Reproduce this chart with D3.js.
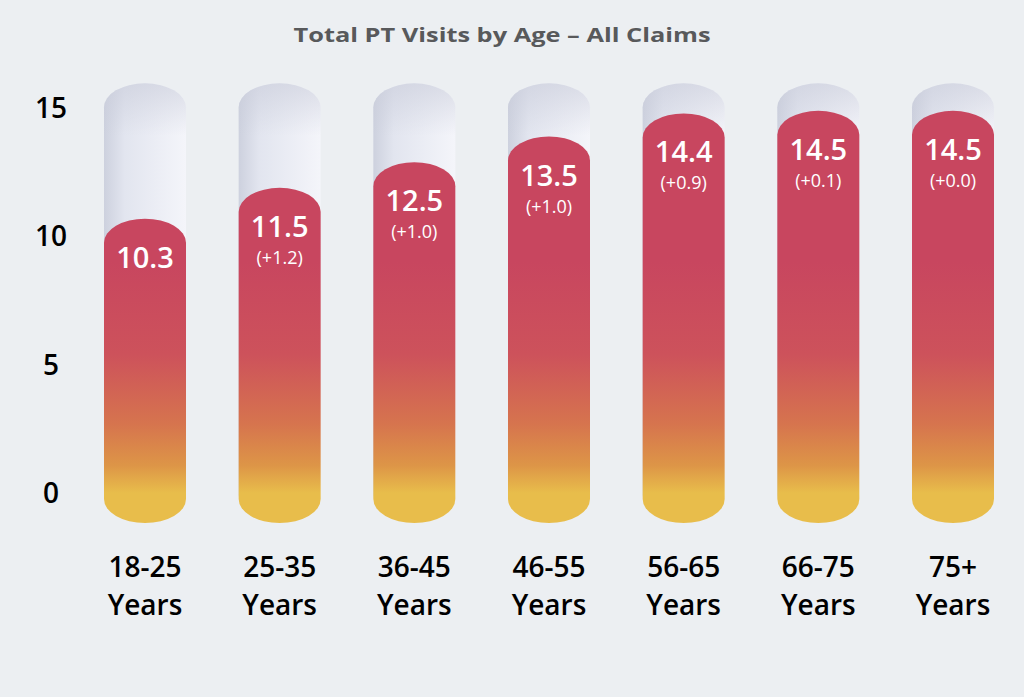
<!DOCTYPE html>
<html>
<head>
<meta charset="utf-8">
<script src="https://cdn.jsdelivr.net/npm/d3@7"></script>
<style>
  html, body { margin: 0; padding: 0; background: #eceff2; }
  svg { display: block; }
  text { font-family: "Open Sans", sans-serif; }
</style>
</head>
<body>
<svg class="chart"></svg>
<script>
// data
var ageGroups = ["18-25", "25-35", "36-45", "46-55", "56-65", "66-75", "75+"];
var visits = [10.3, 11.5, 12.5, 13.5, 14.4, 14.5, 14.5];
var changeLabels = ["", "(+1.2)", "(+1.0)", "(+1.0)", "(+0.9)", "(+0.1)", "(+0.0)"];
var yTicks = [0, 5, 10, 15];
var tubeMax = 16;

var canvasWidth = 1024;
var canvasHeight = 697;
var barWidth = 82;
var capRy = 24;

var svg = d3.select(".chart")
    .attr("width", canvasWidth)
    .attr("height", canvasHeight);

// scales
var x = d3.scalePoint()
    .domain(ageGroups)
    .range([145, 953]);

var y = d3.scaleLinear()
    .domain([0, 15])
    .range([493, 108]);

// capsule shape: elliptical cap top and bottom
function capsule(cx, top, bottom) {
    var r = barWidth / 2;
    return "M" + (cx - r) + "," + (top + capRy) +
        "A" + r + "," + capRy + " 0 0 1 " + (cx + r) + "," + (top + capRy) +
        "L" + (cx + r) + "," + (bottom - capRy) +
        "A" + r + "," + capRy + " 0 0 1 " + (cx - r) + "," + (bottom - capRy) + "Z";
}

var defs = svg.append("defs");

var tubeGrad = defs.append("linearGradient")
    .attr("id", "tube")
    .attr("x1", "0").attr("x2", "1").attr("y1", "0").attr("y2", "0");
tubeGrad.append("stop").attr("offset", "0").attr("stop-color", "#cdd1de");
tubeGrad.append("stop").attr("offset", "0.25").attr("stop-color", "#e2e5ef");
tubeGrad.append("stop").attr("offset", "1").attr("stop-color", "#f4f5fa");

var tubeShade = defs.append("linearGradient")
    .attr("id", "tubeShade")
    .attr("x1", "0").attr("x2", "0").attr("y1", "0").attr("y2", "1");
tubeShade.append("stop").attr("offset", "0").attr("stop-color", "#c9ccda").attr("stop-opacity", 0.6);
tubeShade.append("stop").attr("offset", "0.12").attr("stop-color", "#c9ccda").attr("stop-opacity", 0);
tubeShade.append("stop").attr("offset", "1").attr("stop-color", "#c9ccda").attr("stop-opacity", 0);

var fillGrad = defs.append("linearGradient")
    .attr("id", "fill")
    .attr("gradientUnits", "userSpaceOnUse")
    .attr("x1", 0).attr("x2", 0)
    .attr("y1", y(9)).attr("y2", y(0));
fillGrad.append("stop").attr("offset", "0").attr("stop-color", "#c8465f");
fillGrad.append("stop").attr("offset", "0.4").attr("stop-color", "#cd525b");
fillGrad.append("stop").attr("offset", "0.7").attr("stop-color", "#d6744e");
fillGrad.append("stop").attr("offset", "0.88").attr("stop-color", "#dd9547");
fillGrad.append("stop").attr("offset", "1").attr("stop-color", "#e8bd4b");

// title
svg.append("text")
    .attr("x", 502)
    .attr("y", 42)
    .attr("text-anchor", "middle")
    .attr("textLength", 417)
    .attr("lengthAdjust", "spacingAndGlyphs")
    .style("font-size", "20px")
    .style("font-weight", 700)
    .style("fill", "#58595b")
    .text("Total PT Visits by Age – All Claims");

// y axis labels
svg.append("g").selectAll("text")
    .data(yTicks)
    .enter().append("text")
    .attr("x", 51)
    .attr("y", function (d) { return y(d); })
    .attr("dy", "0.36em")
    .attr("text-anchor", "middle")
    .style("font-size", "28px")
    .style("font-weight", 600)
    .style("fill", "#000")
    .text(function (d) { return d; });

var bottom = y(0) + 30;

// background tubes
svg.append("g").selectAll("path")
    .data(ageGroups)
    .enter().append("path")
    .attr("d", function (d) { return capsule(x(d), y(tubeMax) + 1, bottom - 4); })
    .attr("fill", "url(#tube)");

svg.append("g").selectAll("path")
    .data(ageGroups)
    .enter().append("path")
    .attr("d", function (d) { return capsule(x(d), y(tubeMax) + 1, bottom - 4); })
    .attr("fill", "url(#tubeShade)");

// value bars
var bars = svg.append("g").selectAll("g")
    .data(ageGroups)
    .enter().append("g");

bars.append("path")
    .attr("d", function (d, i) { return capsule(x(d), y(visits[i]) - 10, bottom); })
    .attr("fill", "url(#fill)");

bars.append("text")
    .attr("x", function (d) { return x(d); })
    .attr("y", function (d, i) { return y(visits[i]) - 10 + 49; })
    .attr("text-anchor", "middle")
    .style("font-size", "29px")
    .style("font-weight", 600)
    .style("fill", "#fff")
    .text(function (d, i) { return visits[i].toFixed(1); });

bars.append("text")
    .attr("x", function (d) { return x(d); })
    .attr("y", function (d, i) { return y(visits[i]) - 10 + 76; })
    .attr("text-anchor", "middle")
    .style("font-size", "18px")
    .style("font-weight", 400)
    .style("fill", "#fff")
    .text(function (d, i) { return changeLabels[i]; });

// x axis labels
var xLabels = svg.append("g").selectAll("text")
    .data(ageGroups)
    .enter().append("text")
    .attr("x", function (d) { return x(d); })
    .attr("text-anchor", "middle")
    .style("font-size", "28px")
    .style("font-weight", 600)
    .style("fill", "#000");

xLabels.append("tspan")
    .attr("x", function (d) { return x(d); })
    .attr("y", 577)
    .text(function (d) { return d; });

xLabels.append("tspan")
    .attr("x", function (d) { return x(d); })
    .attr("y", 615)
    .text("Years");
</script>
</body>
</html>
